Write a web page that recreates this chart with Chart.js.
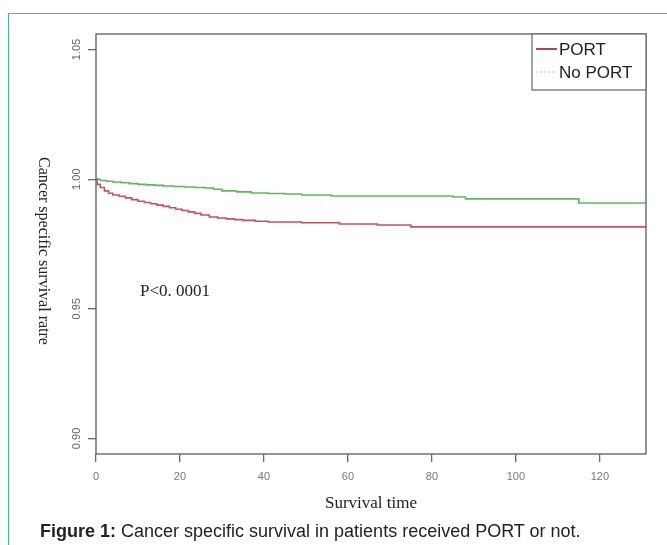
<!DOCTYPE html>
<html>
<head>
<meta charset="utf-8">
<script src="https://cdn.jsdelivr.net/npm/chart.js@4/dist/chart.umd.min.js"></script>
<style>
  html, body { margin:0; padding:0; background:#fff; }
  #wrap { position:relative; width:667px; height:545px; overflow:hidden; background:#fff; }
  #frame { position:absolute; left:8px; top:13px; width:700px; height:600px; border:1.5px solid #45b5a5; box-sizing:border-box; }
  #c { position:absolute; left:0; top:0; }
  #cap { position:absolute; left:40px; top:521px; font-family:"Liberation Sans", Arial, sans-serif; font-size:18px; color:#222; white-space:nowrap; }
</style>
</head>
<body>
<div id="wrap">
  <div id="frame"></div>
  <canvas id="c" width="667" height="545"></canvas>
  <div id="cap"><b>Figure 1:</b> Cancer specific survival in patients received PORT or not.</div>
</div>
<script>
// ---- data ----
const seriesNames = ["PORT", "No PORT"];
const portTime = [0, 0.3, 1, 2, 3, 4, 5.5, 7, 8.5, 10, 11.5, 13, 14.5, 16, 17.5, 19, 20.5, 22, 23.5, 25, 27, 29, 31, 33, 35, 38, 41, 49, 58, 67, 75, 131];
const portSurv = [1.0, 0.998, 0.9968, 0.9955, 0.9946, 0.9939, 0.9934, 0.9928, 0.9921, 0.9915, 0.991, 0.9905, 0.99, 0.9895, 0.989, 0.9884, 0.9879, 0.9874, 0.9868, 0.9862, 0.9854, 0.985, 0.9847, 0.9844, 0.9841, 0.9838, 0.9835, 0.9832, 0.9827, 0.9823, 0.9816, 0.9816];
const noPortTime = [0, 1, 2.5, 4, 6, 8, 10, 12, 14, 16, 18.5, 21, 23.5, 26, 28, 30, 33.5, 37, 41, 45, 49, 56, 85, 88, 115, 131];
const noPortSurv = [1.0, 0.9995, 0.9992, 0.9989, 0.9986, 0.9983, 0.998, 0.9978, 0.9976, 0.9974, 0.9972, 0.997, 0.9968, 0.9966, 0.9961, 0.9955, 0.9951, 0.9947, 0.9945, 0.9943, 0.9939, 0.9935, 0.9931, 0.9924, 0.9908, 0.9908];
const xTicks = [0, 20, 40, 60, 80, 100, 120];
const yTicks = [0.90, 0.95, 1.00, 1.05];
const yTickLabels = ["0.90", "0.95", "1.00", "1.05"];
const xTitle = "Survival time";
const yTitle = "Cancer specific survival ratre";
const pText = "P<0. 0001";

const colPort = "#c4535b";
const colNo = "#5db85b";

function pts(t, s) { return t.map((v, i) => ({x: v, y: s[i]})); }

const extras = {
  id: 'extras',
  afterDraw(chart) {
    const ctx = chart.ctx;
    const a = chart.chartArea;
    const ys = chart.scales.y;
    ctx.save();
    // box
    ctx.strokeStyle = '#666';
    ctx.lineWidth = 1.4;
    ctx.strokeRect(a.left, a.top, a.right - a.left, a.bottom - a.top);
    // y tick labels (rotated)
    ctx.fillStyle = '#666';
    ctx.font = '11px "Liberation Sans", Arial, sans-serif';
    ctx.textAlign = 'center';
    ctx.textBaseline = 'middle';
    yTicks.forEach((v, i) => {
      const py = ys.getPixelForValue(v);
      ctx.save();
      ctx.translate(77, py);
      ctx.rotate(-Math.PI / 2);
      ctx.fillText(yTickLabels[i], 0, 0);
      ctx.restore();
    });
    // y title
    ctx.fillStyle = '#222';
    ctx.font = '16px "Liberation Serif", "Times New Roman", serif';
    ctx.save();
    ctx.translate(43, (a.top + a.bottom) / 2 + 7);
    ctx.rotate(Math.PI / 2);
    ctx.fillText(yTitle, 0, 0);
    ctx.restore();
    // x title
    ctx.font = '17px "Liberation Serif", "Times New Roman", serif';
    ctx.fillText(xTitle, (a.left + a.right) / 2, 504);
    // p value
    ctx.textAlign = 'left';
    ctx.font = '17px "Liberation Serif", "Times New Roman", serif';
    ctx.fillText(pText, 140, 292);
    // legend
    const lx = 532, ly = a.top, lw = a.right - 532, lh = 56;
    ctx.fillStyle = '#fff';
    ctx.fillRect(lx, ly, lw, lh);
    ctx.strokeStyle = '#666';
    ctx.lineWidth = 1.2;
    ctx.strokeRect(lx, ly, lw, lh);
    ctx.font = '17px "Liberation Sans", Arial, sans-serif';
    ctx.fillStyle = '#222';
    chart.data.datasets.forEach((ds, i) => {
      const yy = ly + 15 + i * 23;
      ctx.beginPath();
      if (i === 0) { ctx.strokeStyle = '#a84a4e'; ctx.lineWidth = 2; ctx.setLineDash([]); }
      else { ctx.strokeStyle = '#c8c8c8'; ctx.lineWidth = 1.2; ctx.setLineDash([2, 2]); }
      ctx.moveTo(lx + 4, yy);
      ctx.lineTo(lx + 25, yy);
      ctx.stroke();
      ctx.setLineDash([]);
      ctx.fillText(ds.label, lx + 27, yy + 1);
    });
    ctx.restore();
  }
};

new Chart(document.getElementById('c'), {
  type: 'line',
  data: {
    datasets: [
      { label: seriesNames[0], data: pts(portTime, portSurv), borderColor: colPort, borderWidth: 1.6, pointRadius: 0, stepped: true, fill: false },
      { label: seriesNames[1], data: pts(noPortTime, noPortSurv), borderColor: colNo, borderWidth: 1.6, pointRadius: 0, stepped: true, fill: false }
    ]
  },
  options: {
    responsive: false,
    animation: false,
    layout: { padding: { left: 0, right: 21, top: 34, bottom: 51 } },
    plugins: { legend: { display: false }, tooltip: { enabled: false } },
    scales: {
      x: {
        type: 'linear', min: 0, max: 131,
        afterBuildTicks: s => { s.ticks = xTicks.map(v => ({value: v})); },
        afterFit: s => { s.height = 40; },
        grid: { display: true, drawOnChartArea: false, drawTicks: true, tickLength: 8, color: '#666', lineWidth: 1.3 },
        border: { display: false },
        ticks: { color: '#777', font: { size: 11, family: '"Liberation Sans", Arial, sans-serif' }, padding: 8, maxRotation: 0, autoSkip: false }
      },
      y: {
        type: 'linear', min: 0.894, max: 1.056,
        afterBuildTicks: s => { s.ticks = yTicks.map(v => ({value: v})); },
        afterFit: s => { s.width = 96; },
        grid: { display: true, drawOnChartArea: false, drawTicks: true, tickLength: 8, color: '#666', lineWidth: 1.3 },
        border: { display: false },
        ticks: { display: false }
      }
    }
  },
  plugins: [extras]
});
</script>
</body>
</html>
